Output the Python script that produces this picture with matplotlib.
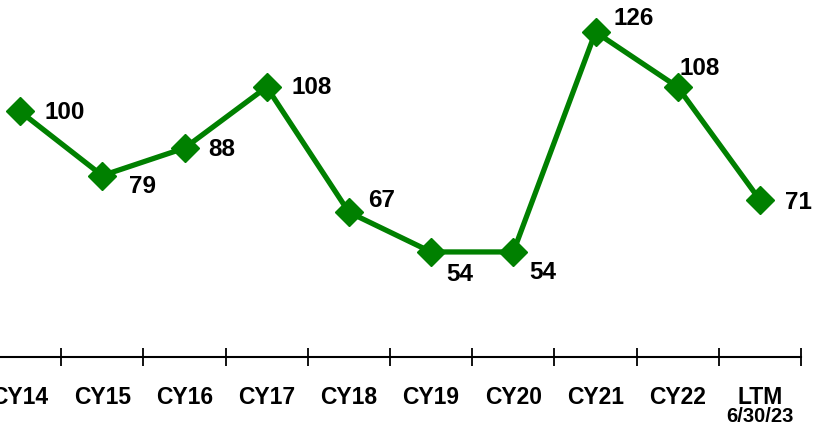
import numpy as np
import matplotlib.pyplot as plt
from matplotlib.transforms import blended_transform_factory

# data
categories = ["CY14", "CY15", "CY16", "CY17", "CY18", "CY19", "CY20", "CY21", "CY22", "LTM"]
values = [100, 79, 88, 108, 67, 54, 54, 126, 108, 71]
ltm_note = "6/30/23"

# label offsets (pixels) relative to each point
label_offsets = [(24, -1), (27, -11), (24, -1), (25, 0), (19, 12),
                 (15, -23), (16, -21), (18, 14), (2, 19), (25, -2)]

plt.rcParams['font.family'] = ['Liberation Sans', 'DejaVu Sans']
plt.rcParams['font.weight'] = 'bold'

fig = plt.figure(figsize=(8.13, 4.30), dpi=100)
ax = fig.add_axes([-21 / 813, 73 / 430, 822 / 813, 357 / 430])

x = np.arange(len(categories))
green = "#008000"
ax.plot(x, values, color=green, lw=3.8, marker="D", ms=14, mfc=green, mec=green,
        solid_joinstyle="round", zorder=3)

for xi, v, (dx, dy) in zip(x, values, label_offsets):
    ax.annotate(str(v), (xi, v), xytext=(dx, dy), textcoords="offset pixels",
                ha="left", va="center", fontsize=17.5, fontweight="bold", color="black")

ax.set_xlim(-0.5, len(categories) - 0.5)
ax.set_ylim(19.6, 136.5)

for s in ["top", "right", "left"]:
    ax.spines[s].set_visible(False)
ax.spines["bottom"].set_linewidth(1.5)
ax.spines["bottom"].set_color("black")
ax.set_yticks([])

ax.set_xticks(x)
ax.set_xticklabels(categories, fontsize=16.5, fontweight="bold")
ax.tick_params(axis="x", which="major", length=0, pad=21)
ax.set_xticks(np.arange(len(categories) + 1) - 0.5, minor=True)
ax.tick_params(axis="x", which="minor", length=13, width=1.3, direction="inout")

trans = blended_transform_factory(ax.transData, fig.transFigure)
ax.text(x[-1], 13 / 430, ltm_note, transform=trans, ha="center", va="center",
        fontsize=14.5, fontweight="bold")

fig.savefig("out.png", dpi=100)
